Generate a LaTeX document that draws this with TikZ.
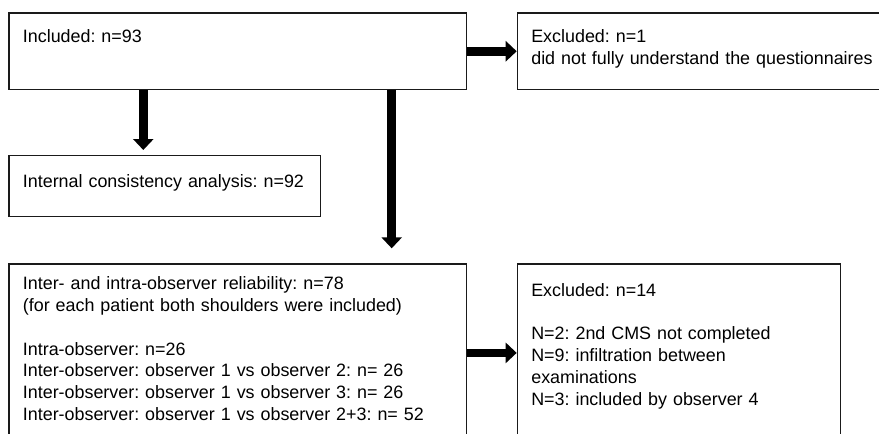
\documentclass[tikz,border=0pt]{standalone}
\usepackage{fontspec}
\setmainfont{Liberation Sans}
\usepackage{xcolor}
\usepackage{tikz}
\usetikzlibrary{positioning, arrows.meta, calc}
\definecolor{boxline}{HTML}{1A1A1A}
\frenchspacing

\begin{document}
\begin{tikzpicture}[x=1pt, y=-1pt,
    flowbox/.style={draw=boxline, line width=1.2pt, anchor=north west, align=left,
      inner xsep=14pt, inner ysep=0pt, font=\fontsize{17.9pt}{21.8pt}\selectfont\frenchspacing},
    fatarrow/.style={line width=8.5pt, -{Triangle[width=20pt, length=11pt]}}]
  \useasboundingbox (0,0) rectangle (879,434);
  \fill[white] (0,0) rectangle (879,434);
  \clip (0,0) rectangle (879,434);

  % top row
  \node[flowbox, text width=429.4pt, text height=29.4pt, text depth=47.3pt]
    (incl) at (8.3,12.3) {Included: n=93};
  \node[flowbox, text width=352pt, text height=30pt, text depth=46.7pt]
    (excla) at (516.7,12.3) {Excluded: n=1\\did not fully understand the questionnaires};

  % middle
  \node[flowbox, text width=283.7pt, text height=31.7pt, text depth=29.3pt]
    (consist) at (8.3,155) {\mbox{Internal consistency analysis: n=92}};

  % bottom row
  \node[flowbox, text width=429.4pt, text height=25.7pt, text depth=152.3pt]
    (reliab) at (8.3,263.3) {Inter- and intra-observer reliability: n=78\\
      (for each patient both shoulders were included)\\[21.8pt]
      Intra-observer: n=26\\
      Inter-observer: observer 1 vs observer 2: n= 26\\
      Inter-observer: observer 1 vs observer 3: n= 26\\
      Inter-observer: observer 1 vs observer 2+3: n= 52};
  \node[flowbox, text width=295.3pt, text height=32.2pt, text depth=145.8pt]
    (exclb) at (516.7,263.3) {Excluded: n=14\\[21.8pt]
      N=2: 2nd CMS not completed\\
      N=9: infiltration between\\
      examinations\\
      N=3: included by observer 4};

  % arrows
  \draw[fatarrow] ([xshift=135pt]incl.south west) -- ([xshift=135pt, yshift=5pt]consist.north west);
  \draw[fatarrow] ([xshift=383.4pt]incl.south west) -- ([xshift=383.4pt, yshift=15pt]reliab.north west);
  \draw[fatarrow] (incl.east) -- (excla.west);
  \draw[fatarrow] (reliab.east) -- (exclb.west);
\end{tikzpicture}
\end{document}
